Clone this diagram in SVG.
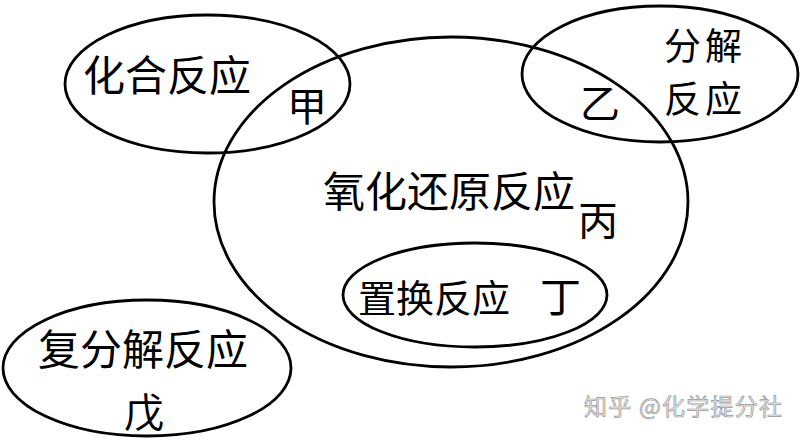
<svg xmlns="http://www.w3.org/2000/svg" width="801" height="441" viewBox="0 0 801 441">
<style>
.ring{fill:none;stroke:#000;stroke-width:2.8}
.t{font-family:"Noto Sans CJK SC","Noto Sans CJK JP",sans-serif;fill:#000}
.wm{font-family:"Noto Sans CJK SC",sans-serif;font-size:23px;fill:#e8e8e8;stroke:#9a9a9a;stroke-width:0.7}
</style>
<rect width="801" height="441" fill="#fff"/>
<g id="redox">
<ellipse class="ring" cx="451" cy="202" rx="237" ry="165"/>
<text class="t" x="323" y="207" font-size="42">氧化还原反应</text>
<text class="t" x="578" y="235" font-size="40">丙</text>
</g>
<g id="combination">
<ellipse class="ring" cx="207.5" cy="84" rx="142.5" ry="69"/>
<text class="t" x="83" y="91" font-size="42">化合反应</text>
<text class="t" x="287" y="121" font-size="40">甲</text>
</g>
<g id="decomposition">
<ellipse class="ring" cx="660" cy="74" rx="138" ry="68"/>
<text class="t" x="664" y="60" font-size="37" textLength="78" lengthAdjust="spacing">分解</text>
<text class="t" x="664" y="113" font-size="37" textLength="78" lengthAdjust="spacing">反应</text>
<text class="t" x="580" y="118" font-size="40">乙</text>
</g>
<g id="displacement">
<ellipse class="ring" cx="475" cy="295" rx="132" ry="52"/>
<text class="t" x="358" y="312" font-size="38">置换反应</text>
<text class="t" x="540" y="312" font-size="41">丁</text>
</g>
<g id="double-decomposition">
<ellipse class="ring" cx="147" cy="368" rx="144" ry="68"/>
<text class="t" x="38" y="365" font-size="42">复分解反应</text>
<text class="t" x="124" y="427" font-size="40">戊</text>
</g>
<text class="wm" x="584" y="415" textLength="198" lengthAdjust="spacing">知乎 @化学提分社</text>
</svg>
